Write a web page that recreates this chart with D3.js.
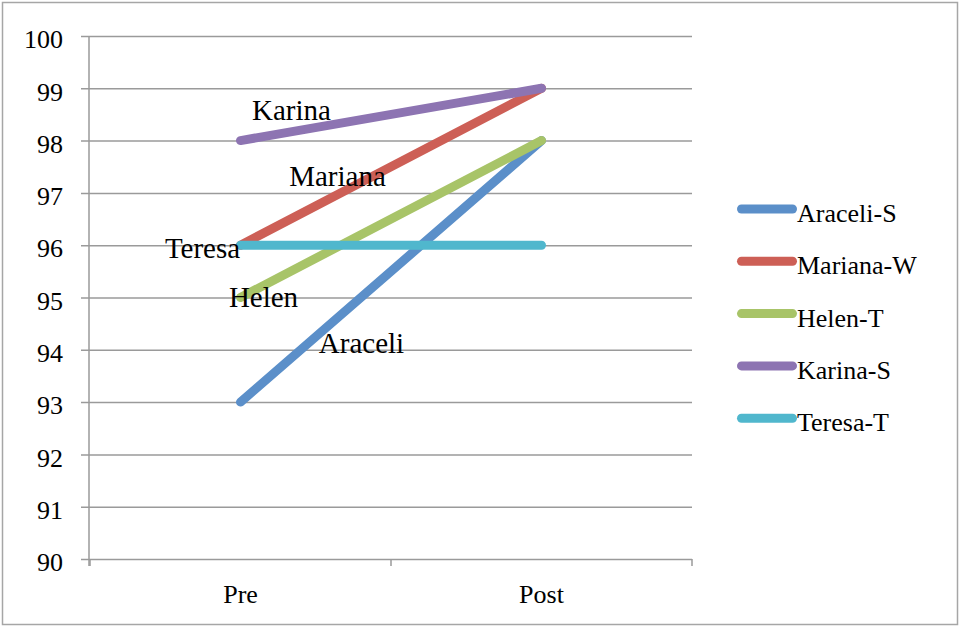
<!DOCTYPE html>
<html>
<head>
<meta charset="utf-8">
<script src="https://cdn.jsdelivr.net/npm/d3@7"></script>
<style>
  body { margin: 0; background: #fff; }
</style>
</head>
<body>
<div id="chart"></div>
<script>
// data
const categories = ['Pre', 'Post'];
const seriesNames = ['Araceli-S', 'Mariana-W', 'Helen-T', 'Karina-S', 'Teresa-T'];
const seriesValues = [
    [93, 98],
    [96, 99],
    [95, 98],
    [98, 99],
    [96, 96]
];
const pointLabels = ['Araceli', 'Mariana', 'Helen', 'Karina', 'Teresa'];
const yTicks = [90, 91, 92, 93, 94, 95, 96, 97, 98, 99, 100];

const colors = ['#5b8fc9', '#cd5f56', '#a8c468', '#8d74b2', '#50b7cd'];
const FONT = '"Liberation Serif", "Times New Roman", serif';

const width = 961;
const height = 627;

const svg = d3.select('#chart')
    .append('svg')
    .attr('width', width)
    .attr('height', height)
    .attr('font-family', FONT);

// outer frame
svg.append('rect')
    .attr('x', 2.5).attr('y', 2.5)
    .attr('width', 955).attr('height', 622)
    .attr('fill', 'none')
    .attr('stroke', '#a6a6a6')
    .attr('stroke-width', 1.5);

const x = d3.scaleBand()
    .domain(categories)
    .range([90, 692]);

const y = d3.scaleLinear()
    .domain([90, 100])
    .range([559, 36]);

// gridlines + y ticks
const yAxis = d3.axisLeft(y)
    .tickValues(yTicks)
    .tickSize(-(692 - 81))
    .tickSizeOuter(0)
    .tickFormat(d3.format('d'));

const gy = svg.append('g')
    .attr('transform', 'translate(81,0)')
    .call(yAxis)
    .attr('font-family', FONT)
    .attr('font-size', 26);
gy.select('.domain').remove();
gy.selectAll('.tick line')
    .attr('stroke', '#9a9a9a')
    .attr('stroke-width', 1.5);
gy.selectAll('.tick text')
    .attr('x', 63 - 81)
    .attr('dy', '0.45em')
    .attr('fill', '#000');

// left axis line
svg.append('line')
    .attr('x1', 89).attr('x2', 89)
    .attr('y1', 36).attr('y2', 566)
    .attr('stroke', '#9a9a9a')
    .attr('stroke-width', 1.5);

// x axis
const xAxis = d3.axisBottom(x).tickSize(0).tickSizeOuter(0);
const gx = svg.append('g')
    .attr('transform', 'translate(0,559)')
    .call(xAxis)
    .attr('font-family', FONT)
    .attr('font-size', 26);
gx.select('.domain').remove();
gx.selectAll('.tick text')
    .attr('y', 44)
    .attr('dy', 0)
    .attr('fill', '#000');

// x tick marks at category boundaries
const bounds = categories.map(c => x(c)).concat([x.range()[1]]);
svg.selectAll('.xtick')
    .data(bounds)
    .enter()
    .append('line')
    .attr('x1', d => d).attr('x2', d => d)
    .attr('y1', 559).attr('y2', 566)
    .attr('stroke', '#9a9a9a')
    .attr('stroke-width', 1.5);

const cx = c => x(c) + x.bandwidth() / 2;

// lines
const line = d3.line()
    .x((d, i) => cx(categories[i]))
    .y(d => y(d));

svg.selectAll('.series')
    .data(seriesValues)
    .enter()
    .append('path')
    .attr('d', line)
    .attr('fill', 'none')
    .attr('stroke', (d, i) => colors[i])
    .attr('stroke-width', 9)
    .attr('stroke-linecap', 'round');

// point labels (hand placed next to the Pre points)
const labelOffsets = [[121, -49], [97, -59], [23, 9], [51, -21], [-38, 13]];
svg.selectAll('.plabel')
    .data(pointLabels)
    .enter()
    .append('text')
    .attr('x', (d, i) => cx(categories[0]) + labelOffsets[i][0])
    .attr('y', (d, i) => y(seriesValues[i][0]) + labelOffsets[i][1])
    .attr('text-anchor', 'middle')
    .attr('font-size', 29)
    .text(d => d);

// legend
const legend = svg.append('g');
const rows = legend.selectAll('g')
    .data(seriesNames)
    .enter()
    .append('g')
    .attr('transform', (d, i) => `translate(0,${209 + i * 52.3})`);
rows.append('line')
    .attr('x1', 741.5).attr('x2', 792.5)
    .attr('y1', 0).attr('y2', 0)
    .attr('stroke', (d, i) => colors[i])
    .attr('stroke-width', 9)
    .attr('stroke-linecap', 'round');
rows.append('text')
    .attr('x', 797)
    .attr('y', 13)
    .attr('font-size', 26)
    .text(d => d);
</script>
</body>
</html>
